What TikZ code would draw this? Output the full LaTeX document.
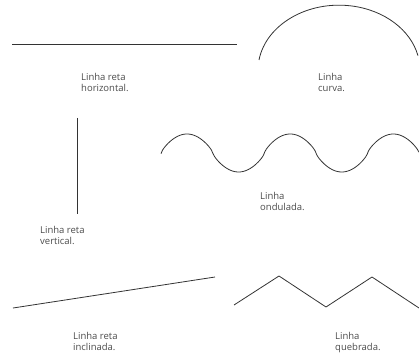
\documentclass[tikz,border=0pt]{standalone}
\usepackage{fontspec}
\setmainfont{Open Sans}
\usetikzlibrary{positioning}

\begin{document}
\begin{tikzpicture}[
x=1pt, y=-1pt,
every node/.style={font=\fontsize{9.5}{11.5}\selectfont},
linha/.style={draw=black!80, line width=0.8pt},
rotulo/.style={anchor=north west, inner sep=0pt, align=left, text=black!70}
]
\useasboundingbox (0,0) rectangle (419,358);
% linha reta horizontal
\coordinate (hA) at (12,44);
\coordinate (hB) at (237,44);
\draw[linha] (hA) -- (hB);
\node[rotulo] (lhoriz) at (81,73) {Linha reta\\horizontal.};
% linha curva
\coordinate (cA) at (259,60);
\draw[linha] (cA) arc[start angle=189, end angle=347, x radius=81, y radius=65];
\node[rotulo] (lcurva) at (318,73) {Linha\\curva.};
% linha reta vertical
\coordinate (vA) at (77,118);
\coordinate (vB) at (77,214);
\draw[linha] (vA) -- (vB);
\node[rotulo] (lvert) at (40,226) {Linha reta\\vertical.};
% linha ondulada
\draw[linha, smooth, samples=160, domain=161:419]
  plot (\x, {153-19*sign(cos(((\x-187)/103.2)*360))*pow(abs(cos(((\x-187)/103.2)*360)),0.75)});
\node[rotulo] (londul) at (260,192) {Linha\\ondulada.};
% linha reta inclinada
\coordinate (iA) at (13,308);
\coordinate (iB) at (215,277);
\draw[linha] (iA) -- (iB);
\node[rotulo] (lincl) at (73,332) {Linha reta\\inclinada.};
% linha quebrada
\coordinate (q1) at (234,305);
\coordinate (q2) at (279,276);
\coordinate (q3) at (326,307);
\coordinate (q4) at (372,277);
\coordinate (q5) at (419,308);
\draw[linha] (q1) -- (q2) -- (q3) -- (q4) -- (q5);
\node[rotulo] (lquebr) at (335,332) {Linha\\quebrada.};
\end{tikzpicture}
\end{document}
